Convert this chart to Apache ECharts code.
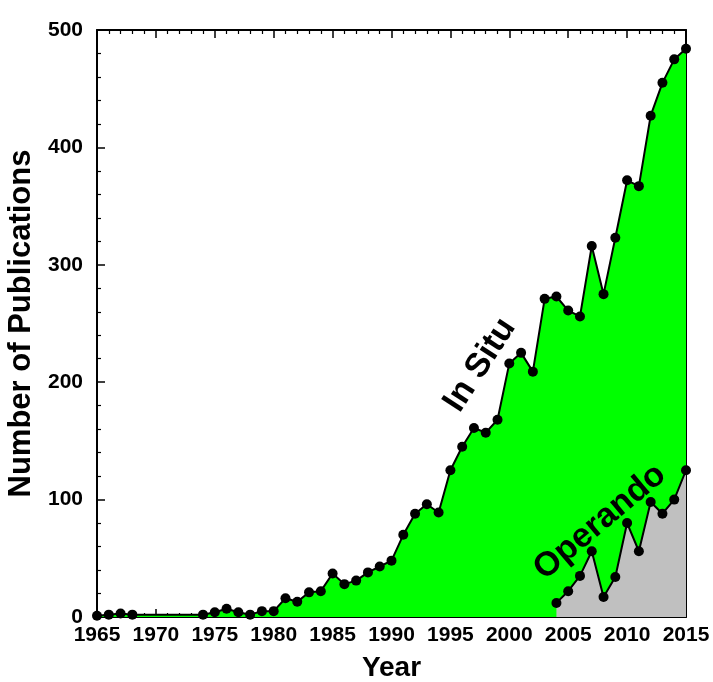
<!DOCTYPE html>
<html>
<head>
<meta charset="utf-8">
<script src="https://cdn.jsdelivr.net/npm/echarts@6/dist/echarts.min.js"></script>
<style>
  html, body { margin: 0; padding: 0; background: #ffffff; }
  #chart { width: 713px; height: 682px; }
</style>
</head>
<body>
<div id="chart"></div>
<script>
// Publication counts per year
const years = [
  1965, 1966, 1967, 1968, 1969, 1970, 1971, 1972, 1973, 1974,
  1975, 1976, 1977, 1978, 1979, 1980, 1981, 1982, 1983, 1984,
  1985, 1986, 1987, 1988, 1989, 1990, 1991, 1992, 1993, 1994,
  1995, 1996, 1997, 1998, 1999, 2000, 2001, 2002, 2003, 2004,
  2005, 2006, 2007, 2008, 2009, 2010, 2011, 2012, 2013, 2014, 2015
];
// null = no publications recorded that year (line passes straight through)
const inSitu = [
  1, 2, 3, 2, null, null, null, null, null, 2,
  4, 7, 4, 2, 5, 5, 16, 13, 21, 22,
  37, 28, 31, 38, 43, 48, 70, 88, 96, 89,
  125, 145, 161, 157, 168, 216, 225, 209, 271, 273,
  261, 256, 316, 275, 323, 372, 367, 427, 455, 475, 484
];
const operandoYears = [2004, 2005, 2006, 2007, 2008, 2009, 2010, 2011, 2012, 2013, 2014, 2015];
const operando = [12, 22, 35, 56, 17, 34, 80, 56, 98, 88, 100, 125];

const xTicks = { min: 1965, max: 2015, interval: 5 };
const yTicks = { min: 0, max: 500, interval: 100 };

const FONT = 'Arial, "Liberation Sans", sans-serif';

const inSituData = years.map((y, i) => [y, inSitu[i]]);
const operandoData = operandoYears.map((y, i) => [y, operando[i]]);

const frameLine = { show: true, onZero: false, lineStyle: { color: '#000', width: 2 } };
const majorTick = { show: true, inside: true, length: 8, lineStyle: { color: '#000', width: 1.5 } };
const minorTick = { show: true, splitNumber: 5, length: 4, lineStyle: { color: '#000', width: 1.2 } };

const chart = echarts.init(document.getElementById('chart'), null, { renderer: 'canvas' });

chart.setOption({
  animation: false,
  backgroundColor: '#ffffff',
  grid: { left: 97, right: 27, top: 30, bottom: 65, containLabel: false, outerBoundsMode: 'none' },
  xAxis: [
    {
      type: 'value', position: 'bottom',
      min: xTicks.min, max: xTicks.max, interval: xTicks.interval,
      axisLine: frameLine, axisTick: majorTick, minorTick: minorTick,
      splitLine: { show: false },
      axisLabel: {
        color: '#000', fontFamily: FONT, fontWeight: 'bold', fontSize: 21, margin: 8,
        formatter: (v) => String(v)
      },
      name: 'Year', nameLocation: 'middle', nameGap: 37,
      nameTextStyle: { color: '#000', fontFamily: FONT, fontWeight: 'bold', fontSize: 28 }
    },
    {
      type: 'value', position: 'top',
      min: xTicks.min, max: xTicks.max, interval: xTicks.interval,
      axisLine: frameLine, axisTick: majorTick, minorTick: minorTick,
      splitLine: { show: false }, axisLabel: { show: false }
    }
  ],
  yAxis: [
    {
      type: 'value', position: 'left',
      min: yTicks.min, max: yTicks.max, interval: yTicks.interval,
      axisLine: frameLine, axisTick: majorTick, minorTick: minorTick,
      splitLine: { show: false },
      axisLabel: { color: '#000', fontFamily: FONT, fontWeight: 'bold', fontSize: 21, margin: 14 },
      name: 'Number of Publications', nameLocation: 'middle', nameGap: 53,
      nameTextStyle: { color: '#000', fontFamily: FONT, fontWeight: 'bold', fontSize: 31 }
    },
    {
      type: 'value', position: 'right',
      min: yTicks.min, max: yTicks.max, interval: yTicks.interval,
      axisLine: frameLine, axisTick: majorTick, minorTick: minorTick,
      splitLine: { show: false }, axisLabel: { show: false }
    }
  ],
  series: [
    {
      name: 'In Situ', type: 'line', xAxisIndex: 0, yAxisIndex: 0,
      data: inSituData, connectNulls: true,
      symbol: 'circle', symbolSize: 10,
      itemStyle: { color: '#000' },
      lineStyle: { color: '#000', width: 2 },
      areaStyle: { color: '#00ff00', opacity: 1, origin: 'start' },
      z: 2
    },
    {
      name: 'Operando', type: 'line', xAxisIndex: 0, yAxisIndex: 0,
      data: operandoData,
      symbol: 'circle', symbolSize: 10,
      itemStyle: { color: '#000' },
      lineStyle: { color: '#000', width: 2 },
      areaStyle: { color: '#c0c0c0', opacity: 1, origin: 'start' },
      z: 3
    }
  ],
  graphic: [
    {
      type: 'text', x: 480, y: 365, rotation: 57 * Math.PI / 180,
      style: { text: 'In Situ', fill: '#000', font: 'bold 34px ' + FONT, align: 'center', verticalAlign: 'middle' },
      z: 10
    },
    {
      type: 'text', x: 600, y: 522, rotation: 40 * Math.PI / 180,
      style: { text: 'Operando', fill: '#000', font: 'bold 34px ' + FONT, align: 'center', verticalAlign: 'middle' },
      z: 10
    }
  ]
});
</script>
</body>
</html>
